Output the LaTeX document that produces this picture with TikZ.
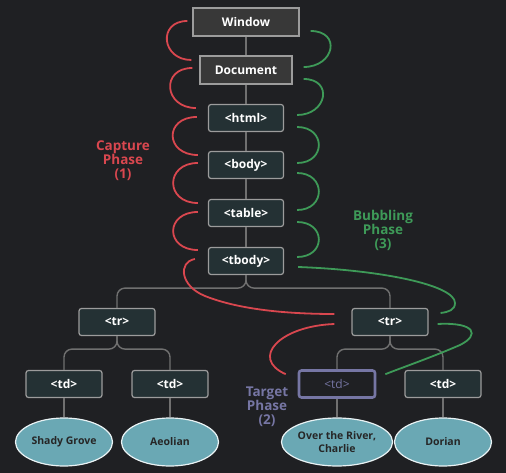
\documentclass[tikz,border=0pt]{standalone}
\usepackage{fontspec}
\setmainfont{Open Sans}
\usetikzlibrary{calc,shapes.geometric}
\definecolor{bg}{HTML}{1F2023}
\definecolor{topgray}{HTML}{383838}
\definecolor{nodeteal}{HTML}{243134}
\definecolor{edgegray}{HTML}{9C9C9C}
\definecolor{treegray}{HTML}{707070}
\definecolor{capred}{HTML}{D9474F}
\definecolor{bubgreen}{HTML}{3E9A58}
\definecolor{targetpurple}{HTML}{7676A4}
\definecolor{leafteal}{HTML}{6AA8B4}
\begin{document}
\begin{tikzpicture}[x=1pt,y=-1pt,
  dom/.style={draw=edgegray,line width=1.2pt,fill=nodeteal,text=white,font=\bfseries\fontsize{12}{14}\selectfont,minimum width=75pt,minimum height=27pt,inner sep=0pt,rounded corners=2.5pt},
  top/.style={dom,fill=topgray,rounded corners=0pt,minimum height=28pt},
  target/.style={dom,draw=targetpurple,line width=2.6pt,fill=bg,text=targetpurple,font=\fontsize{12}{14}\selectfont},
  leaf/.style={ellipse,draw=white!85!leafteal,line width=1.2pt,fill=leafteal,text=black!85,font=\bfseries\fontsize{10.5}{13}\selectfont,minimum width=97pt,minimum height=48pt,inner sep=0pt,align=center},
  phase/.style={font=\bfseries\fontsize{13.5}{14}\selectfont,align=center},
  tree/.style={draw=treegray,line width=1.4pt},
  capline/.style={draw=capred,line width=1.8pt},
  bubline/.style={draw=bubgreen,line width=1.8pt}]
\fill[bg] (0,0) rectangle (506,473);
\useasboundingbox (0,0) rectangle (506,473);
% the DOM chain
\node[top,minimum width=106pt] (win) at (246,22) {Window};
\node[top,minimum width=92pt] (doc) at (246,70) {Document};
\node[dom] (html) at (246,118) {<html>};
\node[dom] (body) at (246,165) {<body>};
\node[dom] (tbl) at (246,213) {<table>};
\node[dom] (tbody) at (246,261) {<tbody>};
\node[dom,minimum width=76pt] (trL) at (117,322) {<tr>};
\node[dom,minimum width=76pt] (trR) at (390,322) {<tr>};
\node[dom,minimum width=76pt] (tdA) at (64,384) {<td>};
\node[dom,minimum width=76pt] (tdB) at (170,384) {<td>};
\node[target,minimum width=76pt] (tdC) at (337,384) {<td>};
\node[dom,minimum width=76pt] (tdD) at (443,384) {<td>};
\node[leaf] (shady) at (64,442) {Shady Grove};
\node[leaf] (aeolian) at (170,442) {Aeolian};
\node[leaf] (river) at (337,442) {Over the River,\\Charlie};
\node[leaf] (dorian) at (443,442) {Dorian};
% tree lines
\draw[tree] (win.south)--(doc.north);
\draw[tree] (doc.south)--(html.north);
\draw[tree] (html.south)--(body.north);
\draw[tree] (body.south)--(tbl.north);
\draw[tree] (tbl.south)--(tbody.north);
\draw[tree,rounded corners=8pt] (tbody.south)--++(0,13)-|(trL.north);
\draw[tree,rounded corners=8pt] (tbody.south)--++(0,13)-|(trR.north);
\draw[tree,rounded corners=8pt] (trL.south)--++(0,13)-|(tdA.north);
\draw[tree,rounded corners=8pt] (trL.south)--++(0,13)-|(tdB.north);
\draw[tree,rounded corners=8pt] (trR.south)--++(0,13)-|(tdC.north);
\draw[tree,rounded corners=8pt] (trR.south)--++(0,13)-|(tdD.north);
\draw[tree] (tdA.south)--(shady.north);
\draw[tree] (tdB.south)--(aeolian.north);
\draw[tree] (tdC.south)--(river.north);
\draw[tree] (tdD.south)--(dorian.north);
% capture phase
\draw[capline] ($(win.west)+(-5,-1)$) .. controls +(-30,0) and +(-30,0) .. ($(doc.west)+(-8,-10)$);
\draw[capline] ($(doc.west)+(-7,-2)$) .. controls +(-32,0) and +(-32,0) .. ($(html.west)+(-12,-10)$);
\draw[capline] ($(html.west)+(-11,-1)$) .. controls +(-33,0) and +(-33,0) .. ($(body.west)+(-10,-10)$);
\draw[capline] ($(body.west)+(-10,-2)$) .. controls +(-33,0) and +(-33,0) .. ($(tbl.west)+(-10,-10)$);
\draw[capline] ($(tbl.west)+(-10,-1)$) .. controls +(-33,0) and +(-33,0) .. ($(tbody.west)+(-10,-11)$);
\draw[capline] ($(tbody.west)+(-13,-2)$) .. controls +(-17,3) and +(-25,-10) .. (205,296) .. controls +(35,14) and +(-45,0) .. ($(trR.west)+(-17,-8)$);
\draw[capline] ($(trR.west)+(-17,2)$) .. controls +(-55,2) and +(-36,-16) .. ($(tdC.north west)+(-12,5)$);
% bubbling phase
\draw[bubline] ($(win.east)+(11,9)$) .. controls +(31,0) and +(31,0) .. ($(doc.east)+(11,-3)$);
\draw[bubline] ($(doc.east)+(11,9)$) .. controls +(30,0) and +(30,0) .. ($(html.east)+(13,-3)$);
\draw[bubline] ($(html.east)+(13,9)$) .. controls +(29,0) and +(29,0) .. ($(body.east)+(13,-2)$);
\draw[bubline] ($(body.east)+(13,8)$) .. controls +(29,0) and +(29,0) .. ($(tbl.east)+(13,-3)$);
\draw[bubline] ($(tbl.east)+(13,9)$) .. controls +(29,0) and +(29,0) .. ($(tbody.east)+(13,-4)$);
\draw[bubline] ($(tbody.east)+(14,6)$) .. controls +(83,3) and +(0,-18) .. (455,303) .. controls +(0,7) and +(8,-1) .. ($(trR.east)+(12,-9)$);
\draw[bubline] ($(trR.east)+(9,2)$) .. controls +(38,-2) and +(20,-10) .. (460,345) .. controls +(-30,13) and +(15,-6) .. ($(tdC.north east)+(9,5)$);
% phase labels
\node[phase,text=capred] (capture) at (123,161) {Capture\\Phase\\(1)};
\node[phase,text=bubgreen] (bubbling) at (383,230) {Bubbling\\Phase\\(3)};
\node[phase,text=targetpurple] (targetlbl) at (267,407) {Target\\Phase\\(2)};
\end{tikzpicture}
\end{document}
